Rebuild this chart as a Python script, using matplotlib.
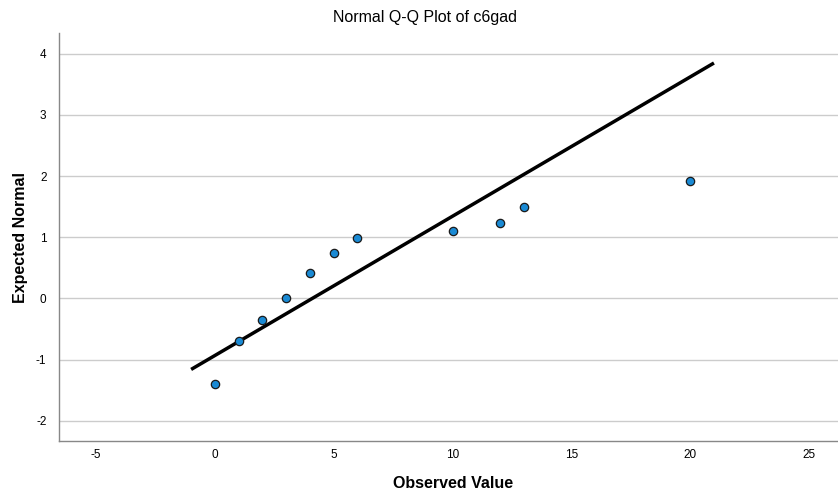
import matplotlib
matplotlib.use("Agg")
import matplotlib.pyplot as plt

plt.rcParams['font.family'] = ['Liberation Sans', 'DejaVu Sans']

observed = [0, 1, 2, 3, 4, 5, 6, 10, 12, 13, 20]
expected = [-1.40, -0.69, -0.35, 0.0, 0.42, 0.74, 0.99, 1.10, 1.23, 1.49, 1.92]
line_x = [-1.0, 21.0]
line_y = [-1.16, 3.85]
x_ticks = [-5, 0, 5, 10, 15, 20, 25]
y_ticks = [-2, -1, 0, 1, 2, 3, 4]

fig = plt.figure(figsize=(8.38, 4.93), dpi=100)
ax = fig.add_axes([0.0704, 0.1055, 0.9296, 0.8275])

ax.set_xlim(-6.56, 26.22)
ax.set_ylim(-2.33, 4.34)
ax.set_xticks(x_ticks)
ax.set_yticks(y_ticks)
ax.set_xticklabels([str(v) for v in x_ticks])
ax.set_yticklabels([str(v) for v in y_ticks])
ax.tick_params(length=0, labelsize=8.5, colors='black')
ax.tick_params(axis='x', pad=6)
ax.tick_params(axis='y', pad=9)

for v in y_ticks:
    ax.axhline(v, color='#cccccc', lw=1.0, zorder=0)

for s in ['top', 'right']:
    ax.spines[s].set_visible(False)
for s in ['left', 'bottom']:
    ax.spines[s].set_color('#888888')
    ax.spines[s].set_linewidth(1.0)

ax.plot(line_x, line_y, color='black', lw=2.5, zorder=2, solid_capstyle='butt')
ax.scatter(observed, expected, s=36, facecolor='#1a8ad4', edgecolor='#1a1a1a',
           linewidth=0.9, zorder=3)

fig.text(0.507, 0.9635, 'Normal Q-Q Plot of c6gad', ha='center', va='center',
         fontsize=11.5, fontweight='normal')
fig.text(0.5406, 0.0183, 'Observed Value', ha='center', va='center',
         fontsize=11.5, fontweight='bold')
fig.text(0.0239, 0.519, 'Expected Normal', ha='center', va='center',
         rotation=90, fontsize=11.5, fontweight='bold')

fig.savefig('out.png', dpi=100)
